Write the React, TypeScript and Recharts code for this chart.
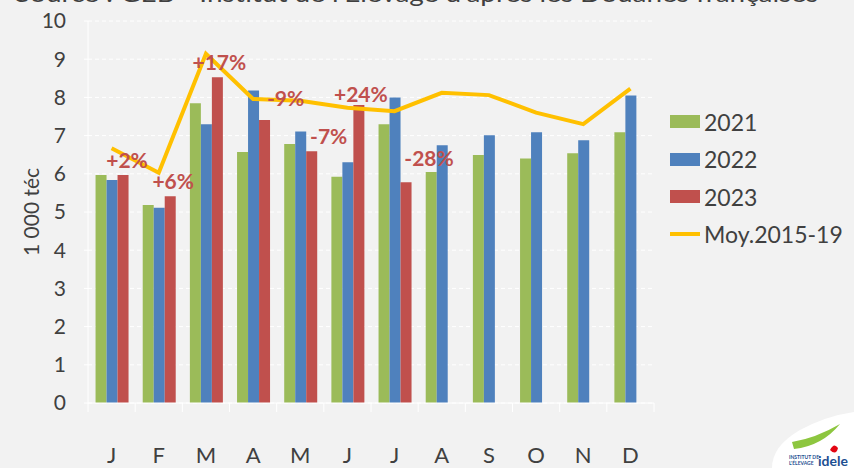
import {
  Bar,
  CartesianGrid,
  ComposedChart,
  Label,
  LabelList,
  Legend,
  Line,
  XAxis,
  YAxis,
} from "recharts";

const months = ["J", "F", "M", "A", "M", "J", "J", "A", "S", "O", "N", "D"];
const y2021 = [5.97, 5.18, 7.85, 6.57, 6.78, 5.92, 7.3, 6.05, 6.49, 6.4, 6.54, 7.09];
const y2022 = [5.84, 5.11, 7.3, 8.18, 7.11, 6.3, 8.0, 6.75, 7.01, 7.09, 6.88, 8.05];
const y2023 = [5.97, 5.41, 8.53, 7.41, 6.59, 7.8, 5.78, null, null, null, null, null];
const moy1519 = [6.67, 6.03, 9.14, 7.96, 7.91, 7.73, 7.64, 8.12, 8.06, 7.6, 7.3, 8.23];
const evol = ["+2%", "+6%", "+17%", "-9%", "-7%", "+24%", "-28%", null, null, null, null, null];
const yTicks = [0, 1, 2, 3, 4, 5, 6, 7, 8, 9, 10];

// label nudges relative to the top of the 2023 bar (manual placement in the source)
const labelNudge = [
  [4, -15],
  [3, -16],
  [2, -16],
  [21, -22],
  [17, -16],
  [2, -12],
  [23, -25],
];

const data = months.map((m, i) => ({
  key: String(i),
  mois: m,
  a2021: y2021[i],
  a2022: y2022[i],
  a2023: y2023[i],
  moy: moy1519[i],
  evol: evol[i],
}));

const FONT = "Lato, 'Open Sans', sans-serif";
const TXT = "#404040";

const MonthTick = (props: any) => {
  const { x, y, payload, index } = props;
  const half = payload.offset || 23.6;
  return (
    <g>
      <line x1={x - half} y1={y} x2={x - half} y2={y + 9} stroke="#ffffff" />
      {index === months.length - 1 && (
        <line x1={x + half} y1={y} x2={x + half} y2={y + 9} stroke="#ffffff" />
      )}
      <text
        x={x}
        y={y + 60}
        textAnchor="middle"
        fill={TXT}
        fontSize={22}
        fontFamily={FONT}
      >
        {months[Number(payload.value)]}
      </text>
    </g>
  );
};

const EvolLabel = (props: any) => {
  const { x, y, width, value, index } = props;
  if (!value) return null;
  const [dx, dy] = labelNudge[index] || [0, -15];
  return (
    <text
      x={x + width / 2 + dx}
      y={y + dy}
      textAnchor="middle"
      dominantBaseline="central"
      fill="#c0504d"
      fontSize={21}
      fontWeight={700}
      fontFamily={FONT}
    >
      {value}
    </text>
  );
};

const renderLegend = (props: any) => {
  const { payload } = props;
  return (
    <div style={{ fontFamily: FONT }}>
      {(payload || []).map((entry: any) => (
        <div
          key={entry.value}
          style={{ display: "flex", alignItems: "center", height: 37.5 }}
        >
          <div
            style={{
              width: 30,
              height: entry.type === "line" ? 4 : 13,
              background: entry.color,
              marginLeft: 2,
              marginRight: 4,
            }}
          />
          <span style={{ fontSize: 23, color: TXT, whiteSpace: "nowrap" }}>
            {entry.value}
          </span>
        </div>
      ))}
    </div>
  );
};

export default function App() {
  return (
    <div
      style={{
        position: "absolute",
        left: 0,
        top: 0,
        width: 854,
        height: 468,
        background: "#f2f2f2",
        overflow: "hidden",
      }}
    >
      <svg
        width={854}
        height={468}
        style={{ position: "absolute", left: 0, top: 0 }}
      >
        <text
          x={15}
          y={2}
          textLength={803}
          lengthAdjust="spacingAndGlyphs"
          fill={TXT}
          fontSize={23}
          fontFamily={FONT}
        >
          Source : GEB - Institut de l'Elevage d'après les Douanes françaises
        </text>
        <path
          d="M800 430 Q826 416 854 412 L854 468 L772 468 Q772 446 800 430 Z"
          fill="#ffffff"
        />
        <path
          d="M792 442 Q816 438 840 424 Q822 446 794 449 Z"
          fill="#8dc63f"
        />
        <path d="M830 450 Q834 442 838 448 Q836 456 830 450 Z" fill="#e30613" />
        <text x={789} y={459} fontSize={5} fontWeight={700} fill="#1d4f91" fontFamily={FONT}>
          INSTITUT DE
        </text>
        <text x={789} y={465} fontSize={5} fontWeight={700} fill="#1d4f91" fontFamily={FONT}>
          L'ÉLEVAGE
        </text>
        <text x={818} y={466} fontSize={14} fontWeight={700} fill="#1d4f91" fontFamily={FONT}>
          idele
        </text>
      </svg>
      <ComposedChart
        width={854}
        height={468}
        data={data}
        margin={{ top: 21, right: 14, bottom: 0, left: 0 }}
        barCategoryGap="16%"
        barGap={0}
        style={{ position: "absolute", left: 0, top: 0 }}
      >
        <CartesianGrid
          vertical={false}
          stroke="#ffffff"
          strokeDasharray="4 3"
        />
        <XAxis
          dataKey="key"
          height={65}
          axisLine={{ stroke: "#ffffff" }}
          tickLine={false}
          tickSize={0}
          tickMargin={0}
          interval={0}
          tick={<MonthTick />}
        />
        <YAxis
          width={88}
          domain={[0, 10]}
          ticks={yTicks}
          interval={0}
          axisLine={{ stroke: "#ffffff" }}
          tickLine={{ stroke: "#ffffff" }}
          tickSize={4}
          tickMargin={18}
          tick={{ fill: TXT, fontSize: 21, fontFamily: FONT }}
        >
          <Label
            content={(p: any) => {
              const vb = p.viewBox || { x: 0, y: 21, height: 382 };
              const cx = vb.x + 30;
              const cy = vb.y + vb.height / 2;
              return (
                <text
                  x={cx}
                  y={cy}
                  transform={`rotate(-90 ${cx} ${cy})`}
                  textAnchor="middle"
                  dominantBaseline="central"
                  fill={TXT}
                  fontSize={21}
                  fontFamily={FONT}
                >
                  1 000 téc
                </text>
              );
            }}
          />
        </YAxis>
        <Legend
          layout="vertical"
          verticalAlign="top"
          align="right"
          wrapperStyle={{ top: 103, left: 668, width: 186 }}
          content={renderLegend}
        />
        <Bar dataKey="a2021" name="2021" fill="#9bbb59" isAnimationActive={false} />
        <Bar dataKey="a2022" name="2022" fill="#4f81bd" isAnimationActive={false} />
        <Bar dataKey="a2023" name="2023" fill="#c0504d" isAnimationActive={false}>
          <LabelList dataKey="evol" content={<EvolLabel />} />
        </Bar>
        <Line
          dataKey="moy"
          name="Moy.2015-19"
          type="linear"
          stroke="#ffc000"
          strokeWidth={4}
          dot={false}
          legendType="line"
          isAnimationActive={false}
        />
      </ComposedChart>
    </div>
  );
}
